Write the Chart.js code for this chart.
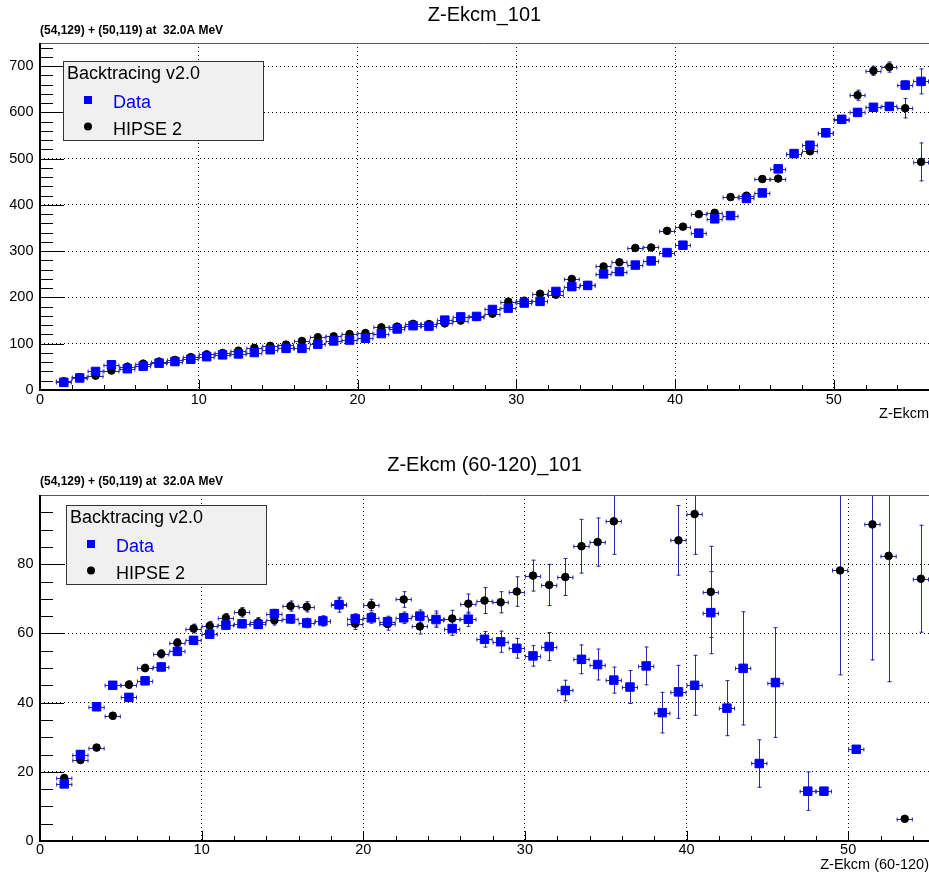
<!DOCTYPE html>
<html>
<head>
<meta charset="utf-8">
<title>Z-Ekcm</title>
<script src="https://cdn.jsdelivr.net/npm/chart.js@4/dist/chart.umd.min.js"></script>
<style>
    html, body { margin: 0; padding: 0; background: #fff; }
    #wrap { position: relative; width: 929px; height: 876px; }
    canvas { position: absolute; left: 0; display: block; }
</style>
</head>
<body>
<div id="wrap">
    <canvas id="topChart" width="929" height="440" style="top:0"></canvas>
    <canvas id="bottomChart" width="929" height="436" style="top:440px"></canvas>
</div>
<script>
// ---- Top panel: Z-Ekcm_101 ----
const zTop = [
    1.5, 2.5, 3.5, 4.5, 5.5, 6.5, 7.5, 8.5, 9.5, 10.5,
    11.5, 12.5, 13.5, 14.5, 15.5, 16.5, 17.5, 18.5, 19.5, 20.5,
    21.5, 22.5, 23.5, 24.5, 25.5, 26.5, 27.5, 28.5, 29.5, 30.5,
    31.5, 32.5, 33.5, 34.5, 35.5, 36.5, 37.5, 38.5, 39.5, 40.5,
    41.5, 42.5, 43.5, 44.5, 45.5, 46.5, 47.5, 48.5, 49.5, 50.5,
    51.5, 52.5, 53.5, 54.5, 55.5,
];
const dataTop = [
    16.5, 26, 40, 54.5, 46, 51.5, 58, 61.5, 66.5, 72,
    76, 78, 81, 87, 90, 90, 99, 106, 108, 112,
    122, 132, 139, 138, 151, 158, 159, 174, 177, 188,
    191.5, 213, 223.5, 226, 251, 256, 270, 279, 297, 313,
    339, 370, 377, 414, 426, 478, 511, 529, 556, 585,
    600, 611, 613, 659, 667,
];
const dataTopErr = [
    1.5, 2, 2, 2.5, 2, 2, 2.5, 2.5, 2.5, 2.5,
    2.5, 2.5, 3, 3, 3, 3, 3, 3, 3, 3.5,
    3.5, 3.5, 3.5, 3.5, 4, 4, 4, 4, 4, 4.5,
    4.5, 4.5, 5, 5, 5, 5, 5.5, 5.5, 5.5, 6,
    6, 6.5, 6.5, 7, 7, 7.5, 7.5, 7.5, 8, 8,
    8, 8, 8.5, 10, 28,
];
const hipseTop = [
    19, 27.5, 31, 42, 50.5, 57, 61.5, 65, 71, 77,
    80, 85, 91, 95.5, 98, 106, 114, 116, 121, 123,
    135.5, 137, 143, 142.5, 144, 150, 158, 165, 191, 193,
    208, 206, 240, 227, 267, 276, 307, 308, 344, 353,
    380, 383, 417, 420, 456, 457, 511, 516, 555, 584,
    637, 690, 698, 609, 493,
];
const hipseTopErr = [
    1.5, 2, 2, 2.5, 2.5, 2.5, 2.5, 3, 3, 3,
    3, 3, 3.5, 3.5, 3.5, 3.5, 4, 4, 4, 4,
    4.5, 4.5, 4.5, 4.5, 4.5, 5, 5, 5, 5.5, 5.5,
    5.5, 5.5, 6, 6, 6, 6.5, 6.5, 6.5, 7, 7,
    7, 7, 7.5, 7.5, 7.5, 7.5, 8, 8, 8.5, 9,
    12, 11, 12, 22, 42,
];
const xTicksTop = [0, 10, 20, 30, 40, 50];
const yTicksTop = [0, 100, 200, 300, 400, 500, 600, 700];

// ---- Bottom panel: Z-Ekcm (60-120)_101 ----
const zBottom = [
    1.5, 2.5, 3.5, 4.5, 5.5, 6.5, 7.5, 8.5, 9.5, 10.5,
    11.5, 12.5, 13.5, 14.5, 15.5, 16.5, 17.5, 18.5, 19.5, 20.5,
    21.5, 22.5, 23.5, 24.5, 25.5, 26.5, 27.5, 28.5, 29.5, 30.5,
    31.5, 32.5, 33.5, 34.5, 35.5, 36.5, 37.5, 38.5, 39.5, 40.5,
    41.5, 42.5, 43.5, 44.5, 45.5, 46.5, 47.5, 48.5, 49.5, 50.5,
    51.5, 52.5, 53.5, 54.5,
];
const dataBottom = [
    16.5, 25, 38.8, 45, 41.5, 46.3, 50.3, 54.8, 58, 59.8,
    62.4, 62.8, 62.6, 65.7, 64.2, 63, 63.6, 68.3, 64.2, 64.5,
    63.4, 64.5, 65, 64, 61.4, 64.1, 58.3, 57.6, 55.7, 53.5,
    56.2, 43.5, 52.5, 51, 46.5, 44.5, 50.6, 37.1, 43.1, 45,
    66, 38.4, 49.9, 22.4, 45.8, null, 14.4, 14.4, null, 26.5,
    null, null, null, null,
];
const dataBottomErr = [
    0.8, 0.9, 1, 1.1, 1.1, 1.1, 1.2, 1.2, 1.2, 1.3,
    1.3, 1.3, 1.3, 1.4, 1.4, 1.5, 1.5, 2.3, 1.6, 1.7,
    1.7, 1.8, 1.9, 2.0, 2.1, 2.2, 2.4, 3.2, 3.0, 3.1,
    4.2, 3.1, 4.3, 4.6, 3.9, 4.9, 5.6, 6.0, 7.8, 8.8,
    12, 8.1, 16.5, 7, 16, null, 5.7, 0.8, null, 0.8,
    null, null, null, null,
];
const hipseBottom = [
    18.2, 23.4, 27, 36.2, 45.2, 50, 54.1, 57.3, 61.4, 62.2,
    64.5, 66.1, 63.2, 63.8, 67.9, 67.7, 63.6, 68.6, 62.8, 68.2,
    62.7, 69.8, 62, 64.1, 64.3, 68.6, 69.5, 69, 72.1, 76.7,
    74, 76.3, 85.2, 86.4, 92.4, null, null, null, 86.9, 94.5,
    72, null, null, null, null, null, null, null, 78.2, null,
    91.5, 82.4, 6.4, 75.8,
];
const hipseBottomErr = [
    0.8, 0.9, 1, 1.1, 1.2, 1.2, 1.3, 1.3, 1.4, 1.4,
    1.4, 1.5, 1.5, 1.5, 1.6, 1.6, 1.6, 1.7, 1.8, 1.8,
    1.9, 2.4, 2.3, 2.5, 2.5, 2.9, 3.9, 3.2, 4.4, 4.6,
    6.1, 5.5, 7.9, 7.1, 9.7, null, null, null, 10.2, 11.8,
    13.3, null, null, null, null, null, null, null, 30.3, null,
    39.3, 36.5, 0.8, 15.6,
];
const xTicksBottom = [0, 10, 20, 30, 40, 50];
const yTicksBottom = [0, 20, 40, 60, 80];

const SUBTITLE = "(54,129) + (50,119) at  32.0A MeV";
const LEGEND_HEADER = "Backtracing v2.0";
const BIN_HALF = 0.5; // bins are 1 unit wide
const FONT = "'Liberation Sans', Arial, Helvetica, sans-serif";
const ERR_COLOR = "#2a2aa6";

const toPoints = (xs, ys) => xs.map((x, i) => ({ x: x, y: ys[i] }));

// Error bars (x: bin width, y: errors array) drawn under the markers
const errorBars = {
    id: "errorBars",
    beforeDatasetsDraw(chart) {
        const { ctx, chartArea: a, scales } = chart;
        const xs = scales.x, ys = scales.y;
        ctx.save();
        ctx.beginPath();
        ctx.rect(a.left, a.top, a.width, a.height);
        ctx.clip();
        ctx.strokeStyle = ERR_COLOR;
        ctx.lineWidth = 1;
        ctx.beginPath();
        chart.data.datasets.forEach((ds) => {
            ds.data.forEach((p, i) => {
                if (p.y == null) return;
                const px = Math.round(xs.getPixelForValue(p.x)) + 0.5;
                const py = Math.round(ys.getPixelForValue(p.y)) + 0.5;
                const x0 = xs.getPixelForValue(p.x - BIN_HALF);
                const x1 = xs.getPixelForValue(p.x + BIN_HALF);
                ctx.moveTo(x0, py); ctx.lineTo(x1, py);
                ctx.moveTo(x0 + 0.5, py - 2); ctx.lineTo(x0 + 0.5, py + 2);
                ctx.moveTo(x1 - 0.5, py - 2); ctx.lineTo(x1 - 0.5, py + 2);
                const e = ds.errors[i];
                if (!e) return;
                const y0 = ys.getPixelForValue(p.y - e);
                const y1 = ys.getPixelForValue(p.y + e);
                ctx.moveTo(px, y0); ctx.lineTo(px, y1);
                ctx.moveTo(px - 2, y0 - 0.5); ctx.lineTo(px + 2, y0 - 0.5);
                ctx.moveTo(px - 2, y1 + 0.5); ctx.lineTo(px + 2, y1 + 0.5);
            });
        });
        ctx.stroke();
        ctx.restore();
    },
};

// ROOT-like frame: inner tick marks, thick axes, grey top edge
const frame = {
    id: "frame",
    afterDraw(chart, args, opts) {
        const { ctx, chartArea: a, scales } = chart;
        const xs = scales.x, ys = scales.y;
        ctx.save();
        ctx.strokeStyle = "#000";
        ctx.lineWidth = 1;
        ctx.beginPath();
        for (let v = xs.min; v <= xs.max; v += opts.xMinor) {
            const px = Math.round(xs.getPixelForValue(v)) + 0.5;
            const len = v % opts.xMajor === 0 ? 10 : 5;
            ctx.moveTo(px, a.bottom);
            ctx.lineTo(px, a.bottom - len);
        }
        for (let v = ys.min; v <= ys.max; v += opts.yMinor) {
            const py = Math.round(ys.getPixelForValue(v)) + 0.5;
            const len = v % opts.yMajor === 0 ? 24 : 13;
            ctx.moveTo(a.left, py);
            ctx.lineTo(a.left + len, py);
        }
        ctx.stroke();

        ctx.strokeStyle = "#555";
        ctx.beginPath();
        ctx.moveTo(a.left, a.top + 0.5);
        ctx.lineTo(a.right, a.top + 0.5);
        ctx.stroke();

        ctx.strokeStyle = "#000";
        ctx.lineWidth = 2;
        ctx.beginPath();
        ctx.moveTo(a.left, a.top);
        ctx.lineTo(a.left, a.bottom);
        ctx.lineTo(a.right, a.bottom);
        ctx.stroke();
        ctx.restore();
    },
};

// Boxed legend with header, like a ROOT TLegend
const boxLegend = {
    id: "boxLegend",
    afterDraw(chart, args, opts) {
        const { ctx } = chart;
        const { x, y, width, height } = opts;
        ctx.save();
        ctx.fillStyle = "#f0f0f0";
        ctx.fillRect(x, y, width, height);
        ctx.strokeStyle = "#333";
        ctx.lineWidth = 1;
        ctx.strokeRect(x + 0.5, y + 0.5, width, height);
        ctx.font = `18px ${FONT}`;
        ctx.textBaseline = "alphabetic";
        ctx.fillStyle = "#000";
        ctx.fillText(opts.header, x + 4, y + 18);
        chart.data.datasets.forEach((ds, i) => {
            const rowY = y + 39 + i * 26.5;
            ctx.fillStyle = ds.backgroundColor;
            if (ds.pointStyle === "rect") {
                ctx.fillRect(x + 21, rowY - 4, 8, 8);
            } else {
                ctx.beginPath();
                ctx.arc(x + 25, rowY, 4, 0, 2 * Math.PI);
                ctx.fill();
            }
            ctx.fillStyle = ds.labelColor;
            ctx.fillText(ds.label, x + 50, rowY + 8);
        });
        ctx.restore();
    },
};

const tickFont = { family: FONT, size: 14.5, lineHeight: 1.2 };

const makeChart = (id, c) =>
    new Chart(document.getElementById(id), {
        type: "scatter",
        data: {
            datasets: [
                {
                    label: "Data",
                    data: toPoints(c.xs, c.data),
                    errors: c.dataErr,
                    pointStyle: "rect",
                    pointRadius: 6,
                    backgroundColor: "#0000ff",
                    borderColor: "#0000ff",
                    borderWidth: 1,
                    labelColor: "#0000ff",
                },
                {
                    label: "HIPSE 2",
                    data: toPoints(c.xs, c.hipse),
                    errors: c.hipseErr,
                    pointStyle: "circle",
                    pointRadius: 3.8,
                    backgroundColor: "#000",
                    borderColor: "#000",
                    borderWidth: 1,
                    labelColor: "#000",
                },
            ],
        },
        options: {
            responsive: false,
            animation: false,
            events: [],
            layout: { padding: 0, autoPadding: false },
            plugins: {
                legend: { display: false },
                tooltip: { enabled: false },
                title: {
                    display: true,
                    text: c.title,
                    fullSize: false,
                    align: "center",
                    color: "#000",
                    font: { family: FONT, size: 20, weight: "normal", lineHeight: 1 },
                    padding: c.titlePad,
                },
                subtitle: {
                    display: true,
                    text: SUBTITLE,
                    fullSize: false,
                    align: "start",
                    color: "#000",
                    font: { family: FONT, size: 12, weight: "bold", lineHeight: 1 },
                    padding: c.subPad,
                },
                frame: { xMinor: 2, xMajor: 10, yMinor: c.yMinor, yMajor: c.yMajor },
                boxLegend: { x: c.legendX, y: c.legendY, width: 200, height: 79, header: LEGEND_HEADER },
            },
            scales: {
                x: {
                    type: "linear",
                    min: 0,
                    max: c.xMax,
                    afterFit: (s) => { s.height = c.xScaleHeight; },
                    afterBuildTicks: (s) => { s.ticks = c.xTicks.map((v) => ({ value: v })); },
                    ticks: { color: "#000", font: tickFont, padding: c.xTickPad, maxRotation: 0, autoSkip: false },
                    grid: { color: "#000", lineWidth: 1, drawTicks: false },
                    border: { display: false, dash: [1, 3] },
                    title: {
                        display: true,
                        text: c.xTitle,
                        align: "end",
                        color: "#000",
                        font: { family: FONT, size: 14.5, lineHeight: 1 },
                        padding: { top: 0, bottom: c.xTitlePad },
                    },
                },
                y: {
                    type: "linear",
                    min: 0,
                    max: c.yMax,
                    afterFit: (s) => { s.width = 40; },
                    afterBuildTicks: (s) => { s.ticks = c.yTicks.map((v) => ({ value: v })); },
                    ticks: { color: "#000", font: tickFont, padding: 6.5, autoSkip: false },
                    grid: { color: "#000", lineWidth: 1, drawTicks: false },
                    border: { display: false, dash: [1, 3] },
                },
            },
        },
        plugins: [errorBars, frame, boxLegend],
    });

makeChart("topChart", {
    title: "Z-Ekcm_101",
    xTitle: "Z-Ekcm",
    xs: zTop,
    data: dataTop,
    dataErr: dataTopErr,
    hipse: hipseTop,
    hipseErr: hipseTopErr,
    xMax: 56,
    yMax: 750,
    xTicks: xTicksTop,
    yTicks: yTicksTop,
    yMinor: 20,
    yMajor: 100,
    titlePad: { top: 5, bottom: 0 },
    subPad: { top: 0, bottom: 6 },
    xScaleHeight: 50,
    xTickPad: 1.5,
    xTitlePad: 18.75,
    legendX: 63,
    legendY: 61,
});

makeChart("bottomChart", {
    title: "Z-Ekcm (60-120)_101",
    xTitle: "Z-Ekcm (60-120)",
    xs: zBottom,
    data: dataBottom,
    dataErr: dataBottomErr,
    hipse: hipseBottom,
    hipseErr: hipseBottomErr,
    xMax: 55,
    yMax: 100,
    xTicks: xTicksBottom,
    yTicks: yTicksBottom,
    yMinor: 5,
    yMajor: 20,
    titlePad: { top: 15.6, bottom: 0 },
    subPad: { top: 0.2, bottom: 7.2 },
    xScaleHeight: 35,
    xTickPad: 0,
    xTitlePad: 3.75,
    legendX: 66,
    legendY: 65,
});
</script>
</body>
</html>
